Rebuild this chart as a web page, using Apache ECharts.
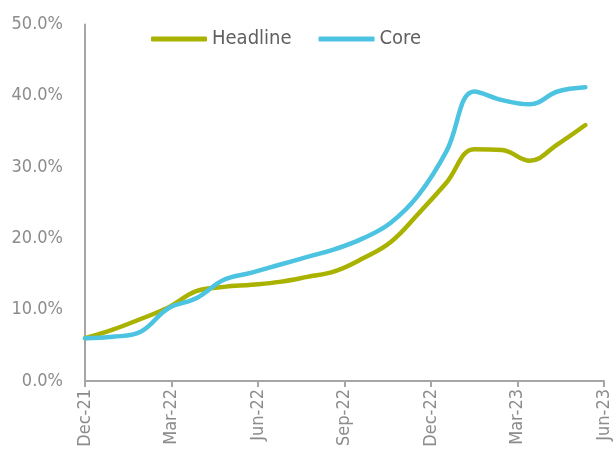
<!DOCTYPE html>
<html>
<head>
<meta charset="utf-8">
<script src="https://cdn.jsdelivr.net/npm/echarts@6/dist/echarts.min.js"></script>
<style>
html,body{margin:0;padding:0;background:#fff;}
#c{width:613px;height:454px;}
</style>
</head>
<body>
<div id="c"></div>
<script>
// Months Dec-21 .. Jun-23
const months = ['Dec-21','Jan-22','Feb-22','Mar-22','Apr-22','May-22','Jun-22','Jul-22','Aug-22','Sep-22','Oct-22','Nov-22','Dec-22','Jan-23','Feb-23','Mar-23','Apr-23','May-23','Jun-23'];
const tickLabels = ['Dec-21','Mar-22','Jun-22','Sep-22','Dec-22','Mar-23','Jun-23'];
const headline = [6.0, 7.2, 8.7, 10.3, 12.6, 13.2, 13.5, 13.9, 14.6, 15.4, 17.2, 19.5, 23.5, 27.8, 32.5, 32.4, 30.9, 33.2, 35.9];
const core     = [6.0, 6.2, 6.9, 10.2, 11.6, 14.2, 15.2, 16.3, 17.4, 18.5, 20.0, 22.2, 26.1, 32.2, 40.6, 39.4, 38.8, 40.6, 41.2];

const fontFam = '"DejaVu Sans Condensed","Liberation Sans Narrow",sans-serif';
const chart = echarts.init(document.getElementById('c'));
chart.setOption({
  animation: false,
  grid: {left: 85, right: 9, top: 24.5, bottom: 73},
  legend: {
    left: 146, top: 24,
    icon: 'roundRect', itemWidth: 56, itemHeight: 5, itemGap: 27,
    textStyle: {color: '#606060', fontSize: 20, fontFamily: fontFam},
    data: ['Headline','Core']
  },
  xAxis: [{
    type: 'value', min: 0, max: 18, interval: 3,
    axisLine: {show: true, lineStyle: {color: '#a6a6a6', width: 2}},
    axisTick: {show: true, length: 6, lineStyle: {color: '#a6a6a6', width: 2}},
    splitLine: {show: false},
    axisLabel: {
      rotate: 90, margin: 8, color: '#8c8c8c', fontSize: 18, fontFamily: fontFam,
      formatter: v => tickLabels[Math.round(v/3)] || ''
    }
  }, {
    type: 'value', min: 0, max: 18.67, show: false
  }],
  yAxis: {
    type: 'value', min: 0, max: 50, interval: 10,
    axisLine: {show: true, lineStyle: {color: '#a6a6a6', width: 2}},
    axisTick: {show: false},
    splitLine: {show: false},
    axisLabel: {margin: 22, color: '#8c8c8c', fontSize: 18, fontFamily: fontFam, formatter: v => v.toFixed(1) + '%'}
  },
  series: [{
    name: 'Headline', type: 'line', xAxisIndex: 1, smooth: 0.4, symbol: 'none',
    lineStyle: {color: '#aab200', width: 4.5, cap: 'round'}, itemStyle: {color: '#aab200'},
    data: headline.map((v,i) => [i, v])
  }, {
    name: 'Core', type: 'line', xAxisIndex: 1, smooth: 0.4, symbol: 'none',
    lineStyle: {color: '#4cc3e1', width: 4.5, cap: 'round'}, itemStyle: {color: '#4cc3e1'},
    data: core.map((v,i) => [i, v])
  }]
});
</script>
</body>
</html>
